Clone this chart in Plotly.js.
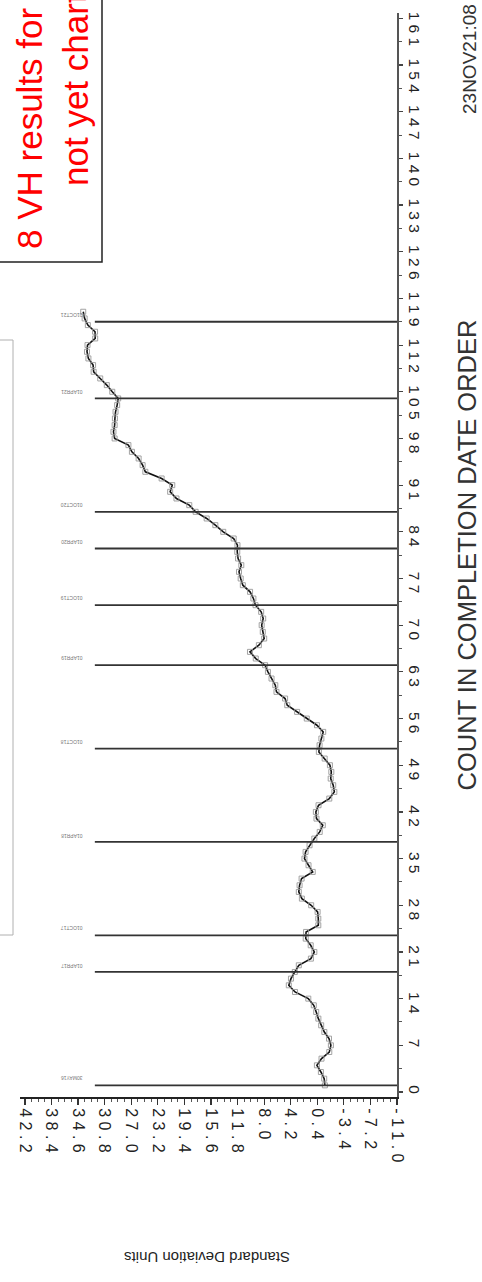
<!DOCTYPE html>
<html>
<head>
<meta charset="utf-8">
<script src="https://cdn.plot.ly/plotly-3.0.1.min.js"></script>
<style>
  html, body { margin: 0; padding: 0; background: #ffffff; }
  #chart { width: 482px; height: 1282px; }
</style>
</head>
<body>
<div id="chart"></div>
<script>
// ---- data ----
const counts = [1,2,3,4,5,6,7,8,9,10,11,12,13,14,15,16,17,18,19,20,
  21,22,23,24,25,26,27,28,29,30,31,32,33,34,35,36,37,38,39,40,
  41,42,43,44,45,46,47,48,49,50,51,52,53,54,55,56,57,58,59,60,
  61,62,63,64,65,66,67,68,69,70,71,72,73,74,75,76,77,78,79,80,
  81,82,83,84,85,86,87,88,89,90,91,92,93,94,95,96,97,98,99,100,
  101,102,103,104,105,106,107,108,109,110,111,112,113,114,115,116,117];

const sdValues = [-0.69,-0.59,-0.12,0.45,-0.21,-1.32,-1.55,-1.28,-0.61,-0.16,
  0.24,0.55,0.90,1.68,3.58,4.47,4.16,3.61,3.04,1.31,
  0.82,1.34,2.05,2.00,0.25,0.25,0.35,1.27,2.60,3.04,
  2.93,2.64,1.05,1.65,2.23,2.07,1.50,0.82,0.05,-0.39,
  0.51,0.60,0.22,-1.32,-2.04,-1.88,-1.52,-1.61,-1.41,-0.66,
  0.17,0.07,-0.19,-0.45,0.44,1.90,3.28,4.69,5.00,6.23,
  6.40,6.94,7.45,7.86,9.19,10.02,8.75,7.99,8.19,8.35,
  8.13,8.42,9.23,9.53,10.01,11.04,11.35,11.59,11.26,11.72,
  11.84,11.81,12.35,13.84,14.97,16.21,17.79,18.70,20.53,21.43,
  21.13,22.65,24.98,25.37,25.94,26.90,27.40,29.37,29.54,29.37,
  29.33,29.24,29.01,28.86,29.71,30.49,31.43,32.37,32.45,33.12,
  33.32,33.25,32.15,32.17,33.20,33.66,33.86];

const eventCounts = [1, 18, 23.5, 37.5, 51.5, 64, 73, 81.5, 87, 104, 115.5];
const eventLabels = ["30MAY16","01APR17","01OCT17","01APR18","01OCT18","01APR19",
  "01OCT19","01APR20","01OCT20","01APR21","01OCT21"];
const eventLineStart = 32.2;

const sdTicks = [42.2, 38.4, 34.6, 30.8, 27.0, 23.2, 19.4, 15.6, 11.8, 8.0, 4.2, 0.4, -3.4, -7.2, -11.0];
const countTicks = [0,7,14,21,28,35,42,49,56,63,70,77,84,91,98,105,112,119,126,133,140,147,154,161];

const xTitle = "Standard Deviation Units";
const yTitle = "COUNT IN COMPLETION DATE ORDER";
const stamp = "23NOV21:08";
const noteLine1 = "8 VH results for";
const noteLine2 = "not yet charted";

// ---- geometry helpers (pixel -> paper) ----
const W = 482, H = 1282;
const M = {l: 20, r: 85, t: 13, b: 185};
const pw = W - M.l - M.r, ph = H - M.t - M.b;
const px = x => (x - M.l) / pw;
const py = y => (H - M.b - y) / ph;

const spaced = s => s.split('').join('\u00a0');
const sdTickText = sdTicks.map(v => spaced(v.toFixed(1)));
const countTickText = countTicks.map(v => {
  const s = String(v);
  return '\u2007\u00a0'.repeat(s.length - 1) + spaced(s);
});

const font = "Liberation Sans, Arial, sans-serif";

const trace = {
  x: sdValues, y: counts, type: 'scatter', mode: 'lines+markers',
  line: {color: '#111', width: 1.6},
  marker: {symbol: 'square-open', size: 5, color: '#999', line: {width: 0.9, color: '#999'}},
  showlegend: false, hoverinfo: 'skip'
};

const shapes = eventCounts.map(c => ({
  type: 'line', xref: 'x', yref: 'y', x0: eventLineStart, x1: -11.0, y0: c, y1: c,
  line: {color: '#333', width: 1.8}
}));
// note box (partly off the page, as in the reference)
shapes.push({type: 'rect', xref: 'paper', yref: 'paper',
  x0: px(-10), x1: px(102), y0: py(262), y1: py(-10),
  line: {color: '#222', width: 1.5}, fillcolor: 'rgba(0,0,0,0)'});
// faint legend frame at the left edge
shapes.push({type: 'rect', xref: 'paper', yref: 'paper',
  x0: px(-10), x1: px(13), y0: py(935), y1: py(340),
  line: {color: '#b0b0b0', width: 1}, fillcolor: 'rgba(0,0,0,0)'});

const annotations = eventCounts.map((c, i) => ({
  x: 35.5, y: c + 1.0, xref: 'x', yref: 'y', text: eventLabels[i], showarrow: false,
  textangle: 180, font: {family: font, size: 5, color: '#777'}
}));
annotations.push({
  xref: 'paper', yref: 'paper', x: px(207), y: py(1268), text: xTitle, showarrow: false,
  textangle: 180, font: {family: font, size: 15, color: '#222'}
});
annotations.push({
  xref: 'paper', yref: 'paper', x: px(470), y: py(116), xanchor: 'center', yanchor: 'bottom',
  text: stamp, showarrow: false, textangle: -90, font: {family: font, size: 19, color: '#333'}
});
annotations.push({
  xref: 'paper', yref: 'paper', x: px(29), y: py(251), xanchor: 'center', yanchor: 'bottom',
  text: noteLine1, showarrow: false, textangle: -90, font: {family: font, size: 35, color: '#ff0000'}
});
annotations.push({
  xref: 'paper', yref: 'paper', x: px(76), y: py(188), xanchor: 'center', yanchor: 'bottom',
  text: noteLine2, showarrow: false, textangle: -90, font: {family: font, size: 35, color: '#ff0000'}
});

const layout = {
  width: W, height: H,
  margin: M,
  paper_bgcolor: '#fff', plot_bgcolor: '#fff',
  font: {family: font, color: '#222'},
  xaxis: {
    range: [42.9, -11.0], autorange: false,
    tickmode: 'array', tickvals: sdTicks, ticktext: sdTickText, tickangle: 90,
    tickfont: {family: font, size: 16, color: '#222'},
    ticks: 'outside', ticklen: 6, tickwidth: 1.2, tickcolor: '#333',
    minor: {tickmode: 'linear', tick0: -11.0, dtick: 0.95, ticks: 'outside', ticklen: 3, tickwidth: 1, tickcolor: '#555'},
    showline: true, linecolor: '#222', linewidth: 2,
    showgrid: false, zeroline: false, automargin: false, fixedrange: true,
    ticklabeloverflow: 'allow'
  },
  yaxis: {
    side: 'right',
    range: [-0.75, 161.8], autorange: false,
    tickmode: 'array', tickvals: countTicks, ticktext: countTickText, tickangle: 90,
    tickfont: {family: font, size: 15.5, color: '#222'},
    ticks: 'outside', ticklen: 4, tickwidth: 1.2, tickcolor: '#444',
    minor: {tickmode: 'linear', tick0: 0, dtick: 3.5, ticks: 'outside', ticklen: 3, tickwidth: 1, tickcolor: '#555'},
    showline: true, linecolor: '#555', linewidth: 2,
    showgrid: false, zeroline: false, automargin: false, fixedrange: true,
    ticklabeloverflow: 'allow',
    title: {text: yTitle, font: {family: font, size: 25.5, color: '#333'}, standoff: 36}
  },
  shapes: shapes,
  annotations: annotations
};

Plotly.newPlot('chart', [trace], layout, {staticPlot: true, displayModeBar: false});
</script>
</body>
</html>
